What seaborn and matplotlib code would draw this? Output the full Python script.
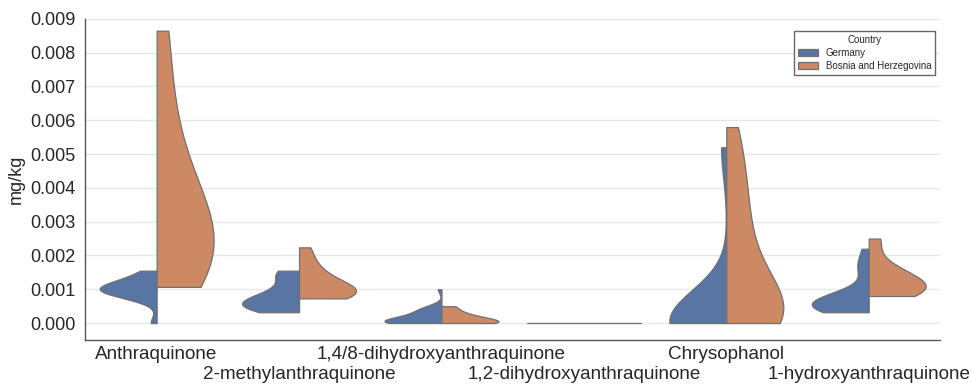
import pandas as pd
import matplotlib
matplotlib.use("Agg")
import matplotlib.pyplot as plt
import matplotlib.transforms as mtransforms
import seaborn as sns

# --------------------------
# Data (mg/kg per sample)
# --------------------------

compounds = [
    "Anthraquinone",
    "2-methylanthraquinone",
    "1,4/8-dihydroxyanthraquinone",
    "1,2-dihydroxyanthraquinone",
    "Chrysophanol",
    "1-hydroxyanthraquinone",
]
countries = ["Germany", "Bosnia and Herzegovina"]

germany_anthraquinone = [0.0, 0.0007, 0.0008, 0.0009, 0.0009, 0.001, 0.001, 0.001,
                         0.001, 0.0011, 0.0011, 0.0012, 0.0013, 0.0014, 0.00155]
bosnia_anthraquinone = [0.00107, 0.0013, 0.0017, 0.002, 0.0025, 0.003, 0.0033,
                        0.004, 0.005, 0.0065, 0.00865]

germany_methyl = [0.00032, 0.0004, 0.00045, 0.0005, 0.00055, 0.0006, 0.0006,
                  0.0007, 0.0008, 0.0009, 0.0011, 0.0014, 0.0015, 0.00155]
bosnia_methyl = [0.00073, 0.00075, 0.0008, 0.0009, 0.001, 0.001, 0.0011,
                 0.0013, 0.0015, 0.0018, 0.00224]

germany_14_8 = [0.0, 0.0, 0.0, 0.0, 0.0, 0.0, 0.0, 0.0, 0.0, 0.00005, 0.00005,
                0.0001, 0.0001, 0.0001, 0.00015, 0.00015, 0.0002, 0.0002,
                0.00025, 0.0003, 0.00035, 0.0004, 0.0004, 0.00045, 0.0005,
                0.001]
bosnia_14_8 = [0.0, 0.0, 0.0, 0.00005, 0.0001, 0.0002, 0.0003, 0.0005]

germany_12 = [0.0, 0.0, 0.0]
bosnia_12 = [0.0, 0.0, 0.0]

germany_chrysophanol = [0.0, 0.0, 0.0, 0.0, 0.0, 0.0, 0.0, 0.0, 0.0001, 0.0002,
                        0.0004, 0.0052]
bosnia_chrysophanol = [0.0, 0.0, 0.0, 0.0, 0.0, 0.0001, 0.0002, 0.0004, 0.0006,
                       0.0009, 0.0012, 0.0016, 0.002, 0.0026, 0.0031, 0.0037,
                       0.0043, 0.005, 0.0058]

germany_hydroxy = [0.00032, 0.00035, 0.0004, 0.00045, 0.0005, 0.0005, 0.00055,
                   0.0006, 0.0006, 0.00065, 0.0007, 0.0008, 0.0009, 0.0016,
                   0.0017, 0.0022]
bosnia_hydroxy = [0.0008, 0.0009, 0.001, 0.0011, 0.0012, 0.0014, 0.0017, 0.0025]

groups = [
    (compounds[0], germany_anthraquinone, bosnia_anthraquinone),
    (compounds[1], germany_methyl, bosnia_methyl),
    (compounds[2], germany_14_8, bosnia_14_8),
    (compounds[3], germany_12, bosnia_12),
    (compounds[4], germany_chrysophanol, bosnia_chrysophanol),
    (compounds[5], germany_hydroxy, bosnia_hydroxy),
]

rows = []
for compound, ger, bos in groups:
    for v in ger:
        rows.append({"Compound": compound, "Country": countries[0], "mg/kg": v})
    for v in bos:
        rows.append({"Compound": compound, "Country": countries[1], "mg/kg": v})
df = pd.DataFrame(rows)

# --------------------------
# Split violin plot
# --------------------------

sns.set_style("whitegrid")
plt.rcParams["font.family"] = ["Liberation Sans", "DejaVu Sans"]

fig, ax = plt.subplots(figsize=(9.71, 3.85), dpi=100)
fig.subplots_adjust(left=0.088, right=0.968, bottom=0.117, top=0.951)

sns.violinplot(data=df, x="Compound", y="mg/kg", hue="Country",
               order=compounds, hue_order=countries, palette="deep",
               split=True, inner=None, cut=0, density_norm="width",
               linewidth=0.9, linecolor="#707070", ax=ax)

ax.set_ylim(-0.0005, 0.009)
ax.set_yticks([i / 1000 for i in range(10)])
ax.set_yticklabels([f"{i / 1000:.3f}" for i in range(10)], fontsize=13)
ax.set_xlabel("")
ax.set_ylabel("mg/kg", fontsize=13)

ax.set_xticks(range(len(compounds)))
ax.set_xticklabels(compounds, fontsize=13.6)
ax.tick_params(axis="x", pad=1)

# stagger the long compound names on two rows
offset = mtransforms.ScaledTranslation(0, -0.2, fig.dpi_scale_trans)
for lab in ax.get_xticklabels()[1::2]:
    lab.set_transform(lab.get_transform() + offset)

ax.grid(axis="y", color="#e6e6e6", linewidth=1)
ax.grid(axis="x", visible=False)
sns.despine(ax=ax)
for side in ["left", "bottom"]:
    ax.spines[side].set_color("#555555")
    ax.spines[side].set_linewidth(1)

leg = ax.legend(title="Country", loc="upper right", bbox_to_anchor=(1.0, 0.977),
                fontsize=7, title_fontsize=7, fancybox=False,
                handlelength=2.0, labelspacing=0.3, borderpad=0.4,
                framealpha=1)
leg.get_frame().set_edgecolor("#666666")

plt.savefig("out.png", dpi=100)
plt.close()
